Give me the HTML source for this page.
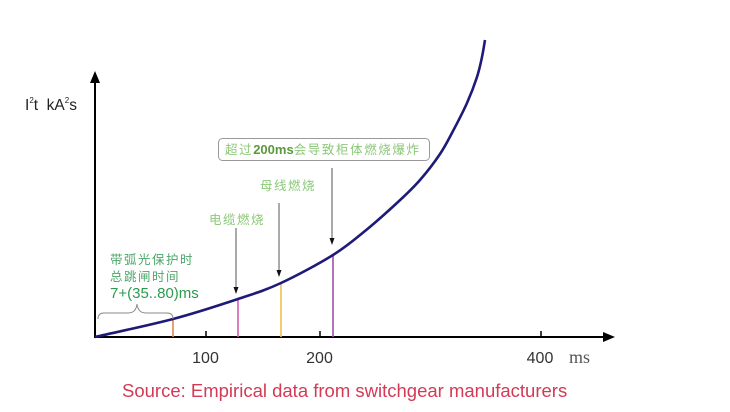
<!DOCTYPE html>
<html><head><meta charset="utf-8"><style>
html,body{margin:0;padding:0;background:#fff;}
svg{display:block;}
.cj{font-family:"Liberation Sans","Noto Sans CJK SC",sans-serif;}
</style></head><body>
<svg width="730" height="412" viewBox="0 0 730 412" xmlns="http://www.w3.org/2000/svg">
<rect width="730" height="412" fill="#fff"/>
<!-- axes -->
<line x1="95" y1="338" x2="95" y2="80" stroke="#000" stroke-width="2"/>
<polygon points="95,71 90,83 100,83" fill="#000"/>
<line x1="94" y1="337" x2="605" y2="337" stroke="#000" stroke-width="2"/>
<polygon points="615,337 603,332 603,342" fill="#000"/>
<!-- ticks -->
<line x1="206" y1="331" x2="206" y2="337" stroke="#000" stroke-width="1.5"/>
<line x1="320" y1="331" x2="320" y2="337" stroke="#000" stroke-width="1.5"/>
<line x1="541" y1="331" x2="541" y2="337" stroke="#000" stroke-width="1.5"/>
<!-- tick labels -->
<g font-family="Liberation Sans, sans-serif" font-size="16" fill="#333" text-anchor="middle">
<text x="205.5" y="363">100</text>
<text x="319.5" y="363">200</text>
<text x="540" y="363">400</text>
</g>
<text x="569" y="363" font-family="Liberation Serif, serif" font-size="18" fill="#555">ms</text>
<!-- y label -->
<text x="25" y="110" font-family="Liberation Sans, sans-serif" font-size="15.5" fill="#222">I<tspan font-size="8" dy="-7">2</tspan><tspan dy="7">t&#160;&#160;kA</tspan><tspan font-size="8" dy="-7">2</tspan><tspan dy="7">s</tspan></text>
<!-- vertical lines -->
<line x1="173" y1="319" x2="173" y2="337" stroke="#e08850" stroke-width="1.6"/>
<line x1="238" y1="299" x2="238" y2="337" stroke="#d060b0" stroke-width="1.6"/>
<line x1="281" y1="283" x2="281" y2="337" stroke="#f0c048" stroke-width="1.6"/>
<line x1="333" y1="255" x2="333" y2="337" stroke="#a050a8" stroke-width="1.6"/>
<!-- curve -->
<path d="M95,337 C121,331 149.2,325.3 173,319 C196.8,312.7 220,305 238,299 C256,293 265.2,290.3 281,283 C296.8,275.7 319,263.7 333,255 C347,246.3 354.2,239.8 365,231 C375.8,222.2 388.8,210.5 398,202 C407.2,193.5 413,188 420,180 C427,172 434.5,162.2 440,154 C445.5,145.8 448.5,139.5 453,131 C457.5,122.5 463,112 467,103 C471,94 474.5,84.7 477,77 C479.5,69.3 480.7,63.2 482,57 C483.3,50.8 484,45.7 485,40" fill="none" stroke="#1e1a78" stroke-width="2.6"/>
<!-- arrows -->
<line x1="236" y1="228" x2="236" y2="289" stroke="#555" stroke-width="1"/>
<polygon points="236,294 233.5,287 238.5,287" fill="#111"/>
<line x1="279" y1="203" x2="279" y2="272" stroke="#555" stroke-width="1"/>
<polygon points="279,277 276.5,270 281.5,270" fill="#111"/>
<line x1="332" y1="168" x2="332" y2="240" stroke="#555" stroke-width="1"/>
<polygon points="332,245 329.5,238 334.5,238" fill="#111"/>
<!-- callout box -->
<rect x="218.5" y="138.5" width="211" height="22" rx="4" ry="4" fill="#fff" stroke="#999" stroke-width="1"/>
<text class="cj" x="225" y="154" font-size="12.5" fill="#8cc878" letter-spacing="1.6">超过<tspan font-family="Liberation Sans, sans-serif" font-weight="bold" font-size="13" fill="#5a9a3a" letter-spacing="0">200ms</tspan>会导致柜体燃烧爆炸</text>
<text class="cj" x="260" y="190" font-size="12.5" fill="#8cc878" letter-spacing="1.5">母线燃烧</text>
<text class="cj" x="209" y="224" font-size="12.5" fill="#8cc878" letter-spacing="1.5">电缆燃烧</text>
<!-- left labels -->
<text class="cj" x="110" y="264" font-size="12.5" fill="#4aa868" letter-spacing="1.5">带弧光保护时</text>
<text class="cj" x="110" y="281" font-size="12.5" fill="#4aa868" letter-spacing="1.5">总跳闸时间</text>
<text x="110" y="298" font-family="Liberation Sans, sans-serif" font-size="15" fill="#2e9a50">7+(35..80)ms</text>
<!-- brace -->
<path d="M98,319 Q98,313 104,313 L128,313 Q136,313 137,304 Q138,313 146,313 L167,313 Q173,313 173,319" fill="none" stroke="#888" stroke-width="1"/>
<!-- source -->
<text x="122" y="397" font-family="Liberation Sans, sans-serif" font-size="18.5" fill="#d23a55">Source: Empirical data from switchgear manufacturers</text>
</svg>
</body></html>
